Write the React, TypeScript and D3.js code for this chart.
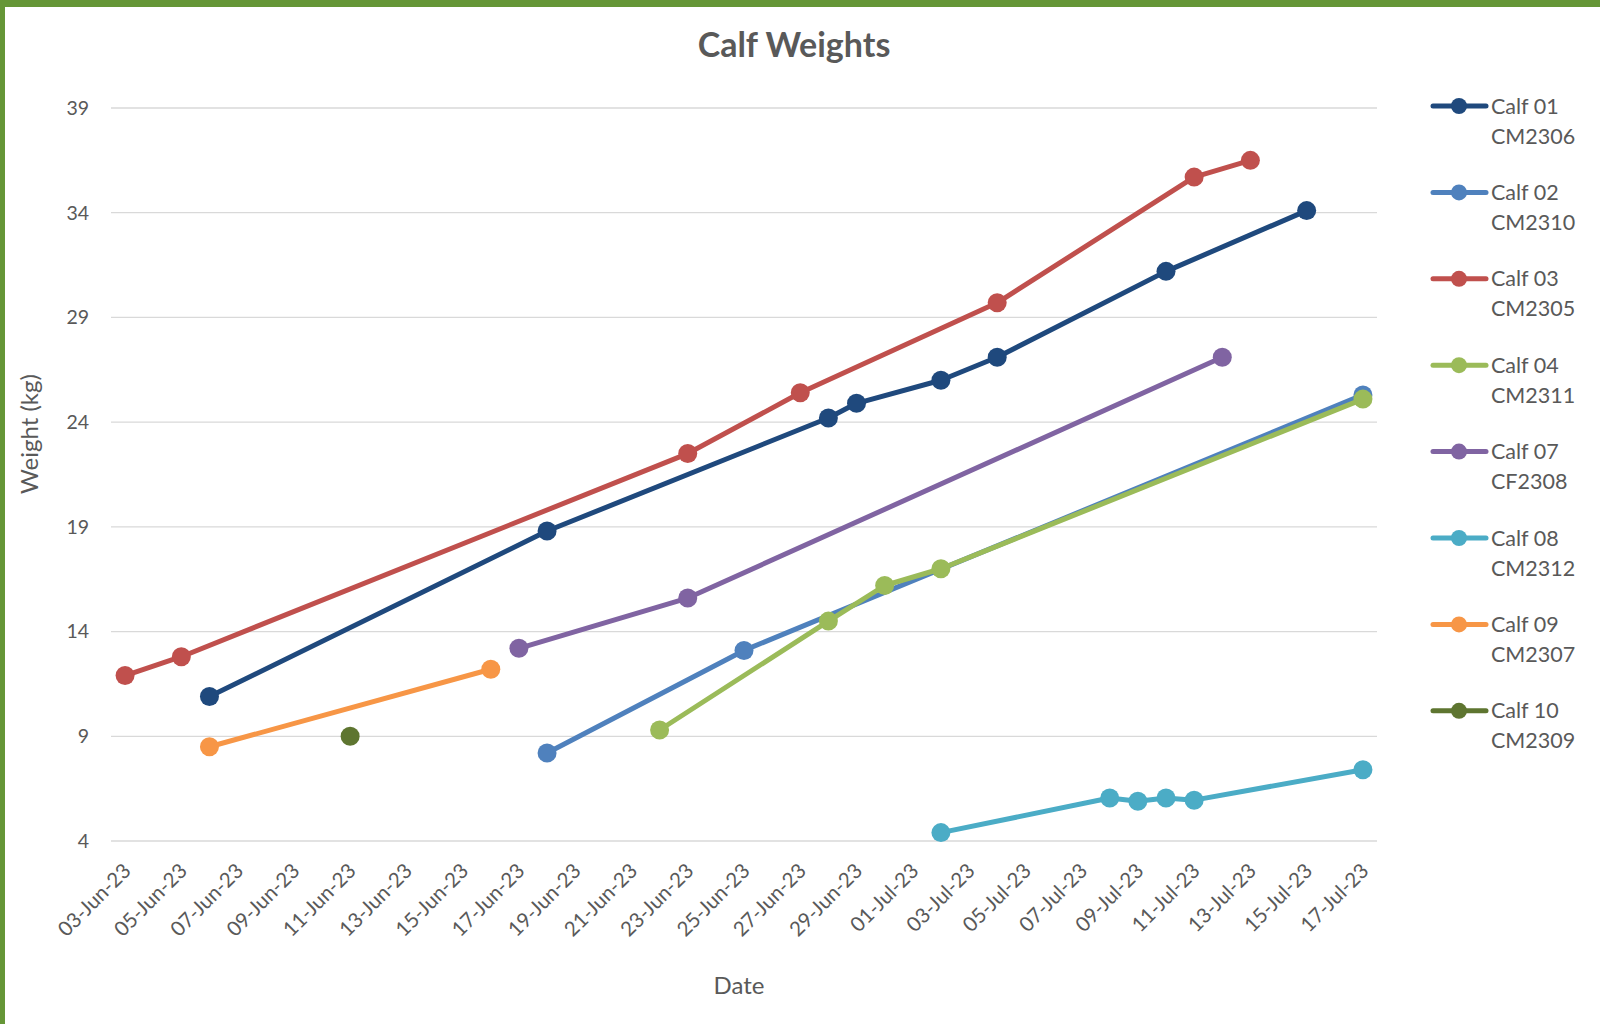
import React, { useRef, useEffect } from 'react';
import * as d3 from 'd3';

interface WeighIn {
    date: string;
    kg: number;
}

// weigh-ins per calf
const calf01: WeighIn[] = [
    { date: '2023-06-06', kg: 10.9 },
    { date: '2023-06-18', kg: 18.8 },
    { date: '2023-06-28', kg: 24.2 },
    { date: '2023-06-29', kg: 24.9 },
    { date: '2023-07-02', kg: 26.0 },
    { date: '2023-07-04', kg: 27.1 },
    { date: '2023-07-10', kg: 31.2 },
    { date: '2023-07-15', kg: 34.1 },
];
const calf02: WeighIn[] = [
    { date: '2023-06-18', kg: 8.2 },
    { date: '2023-06-25', kg: 13.1 },
    { date: '2023-07-17', kg: 25.3 },
];
const calf03: WeighIn[] = [
    { date: '2023-06-03', kg: 11.9 },
    { date: '2023-06-05', kg: 12.8 },
    { date: '2023-06-23', kg: 22.5 },
    { date: '2023-06-27', kg: 25.4 },
    { date: '2023-07-04', kg: 29.7 },
    { date: '2023-07-11', kg: 35.7 },
    { date: '2023-07-13', kg: 36.5 },
];
const calf04: WeighIn[] = [
    { date: '2023-06-22', kg: 9.3 },
    { date: '2023-06-28', kg: 14.5 },
    { date: '2023-06-30', kg: 16.2 },
    { date: '2023-07-02', kg: 17.0 },
    { date: '2023-07-17', kg: 25.1 },
];
const calf07: WeighIn[] = [
    { date: '2023-06-17', kg: 13.2 },
    { date: '2023-06-23', kg: 15.6 },
    { date: '2023-07-12', kg: 27.1 },
];
const calf08: WeighIn[] = [
    { date: '2023-07-02', kg: 4.4 },
    { date: '2023-07-08', kg: 6.05 },
    { date: '2023-07-09', kg: 5.9 },
    { date: '2023-07-10', kg: 6.05 },
    { date: '2023-07-11', kg: 5.95 },
    { date: '2023-07-17', kg: 7.4 },
];
const calf09: WeighIn[] = [
    { date: '2023-06-06', kg: 8.5 },
    { date: '2023-06-16', kg: 12.2 },
];
const calf10: WeighIn[] = [
    { date: '2023-06-11', kg: 9.0 },
];

const calfNames = ['Calf 01', 'Calf 02', 'Calf 03', 'Calf 04', 'Calf 07', 'Calf 08', 'Calf 09', 'Calf 10'];
const calfTags = ['CM2306', 'CM2310', 'CM2305', 'CM2311', 'CF2308', 'CM2312', 'CM2307', 'CM2309'];
const calfSeries = [calf01, calf02, calf03, calf04, calf07, calf08, calf09, calf10];

const yTicks = [4, 9, 14, 19, 24, 29, 34, 39];
const firstDay = '2023-06-03';
const lastDay = '2023-07-17';

const colors = ['#1F497D', '#4F81BD', '#C0504D', '#9BBB59', '#8064A2', '#4BACC6', '#F79646', '#5E7530'];

const W = 1600;
const H = 1024;
const FONT = 'Lato, "Open Sans", sans-serif';
const TEXT = '#595959';

const CalfChart: React.FC = () => {
    const svgRef = useRef<SVGSVGElement>(null);

    useEffect(() => {
        if (!svgRef.current) return;
        const svg = d3.select(svgRef.current);
        svg.selectAll('*').remove();

        const plot = { left: 111, right: 1377, top: 108, bottom: 841 };
        const parse = d3.utcParse('%Y-%m-%d');
        const day = 86400000;
        const d0 = parse(firstDay)!;
        const d1 = parse(lastDay)!;

        // Excel date axis: each day sits in the middle of its slot
        const x = d3.scaleUtc()
            .domain([new Date(d0.getTime() - day / 2), new Date(d1.getTime() + day / 2)])
            .range([plot.left, plot.right]);
        const y = d3.scaleLinear().domain([4, 39]).range([plot.bottom, plot.top]);

        svg.append('rect').attr('width', W).attr('height', H).attr('fill', '#fff');
        // green frame, top and left
        svg.append('rect').attr('x', 0).attr('y', 0).attr('width', W).attr('height', 7).attr('fill', '#659637');
        svg.append('rect').attr('x', 0).attr('y', 0).attr('width', 5).attr('height', H).attr('fill', '#659637');

        // title
        svg.append('text')
            .attr('x', 794).attr('y', 57)
            .attr('text-anchor', 'middle')
            .attr('font-family', FONT).attr('font-weight', 700).attr('font-size', 34)
            .attr('fill', TEXT)
            .text('Calf Weights');

        // grid + y labels
        const grid = svg.append('g');
        grid.selectAll('line').data(yTicks).join('line')
            .attr('x1', plot.left).attr('x2', plot.right)
            .attr('y1', d => y(d)).attr('y2', d => y(d))
            .attr('stroke', '#D9D9D9').attr('stroke-width', 1.3);
        grid.selectAll('text').data(yTicks).join('text')
            .attr('x', 89).attr('y', d => y(d))
            .attr('dy', '0.35em')
            .attr('text-anchor', 'end')
            .attr('font-family', FONT).attr('font-size', 19.5)
            .attr('fill', TEXT)
            .text(d => d);

        // x labels every second day
        const xTicks = d3.utcDay.every(2)!.range(d0, new Date(d1.getTime() + 1));
        const fmt = d3.utcFormat('%d-%b-%y');
        svg.append('g').selectAll('text').data(xTicks).join('text')
            .attr('transform', d => `translate(${x(d) + 2},${867}) rotate(-45)`)
            .attr('text-anchor', 'end')
            .attr('dy', '0.35em')
            .attr('font-family', FONT).attr('font-size', 20.5)
            .attr('fill', TEXT)
            .text(d => fmt(d));

        // axis titles
        svg.append('text')
            .attr('transform', `translate(38,${434}) rotate(-90)`)
            .attr('text-anchor', 'middle')
            .attr('font-family', FONT).attr('font-size', 24)
            .attr('fill', TEXT)
            .text('Weight (kg)');
        svg.append('text')
            .attr('x', 739).attr('y', 994)
            .attr('text-anchor', 'middle')
            .attr('font-family', FONT).attr('font-size', 24)
            .attr('fill', TEXT)
            .text('Date');

        // series
        const line = d3.line<WeighIn>()
            .x(d => x(parse(d.date)!))
            .y(d => y(d.kg));

        calfSeries.forEach((series, i) => {
            const g = svg.append('g');
            g.append('path')
                .datum(series)
                .attr('fill', 'none')
                .attr('stroke', colors[i])
                .attr('stroke-width', 5)
                .attr('stroke-linejoin', 'round')
                .attr('d', line);
            g.selectAll('circle').data(series).join('circle')
                .attr('cx', d => x(parse(d.date)!))
                .attr('cy', d => y(d.kg))
                .attr('r', 9.5)
                .attr('fill', colors[i]);
        });

        // legend
        const legend = svg.append('g');
        const rowY = d3.scaleLinear().domain([0, 1]).range([106, 106 + 86.4]);
        calfNames.forEach((name, i) => {
            const row = legend.append('g').attr('transform', `translate(0,${rowY(i)})`);
            row.append('line')
                .attr('x1', 1433).attr('x2', 1486)
                .attr('stroke', colors[i]).attr('stroke-width', 5)
                .attr('stroke-linecap', 'round');
            row.append('circle').attr('cx', 1459).attr('r', 8).attr('fill', colors[i]);
            row.append('text')
                .attr('x', 1491).attr('dy', '0.35em')
                .attr('font-family', FONT).attr('font-size', 21.5)
                .attr('fill', TEXT)
                .text(name);
            row.append('text')
                .attr('x', 1491).attr('y', 30).attr('dy', '0.35em')
                .attr('font-family', FONT).attr('font-size', 21.5)
                .attr('fill', TEXT)
                .text(calfTags[i]);
        });
    }, []);

    return (
        <svg ref={svgRef} width={W} height={H} viewBox={`0 0 ${W} ${H}`} style={{ display: 'block' }} />
    );
};

export default function App() {
    return (
        <div style={{ position: 'absolute', left: 0, top: 0, width: W, height: H }}>
            <CalfChart />
        </div>
    );
}
